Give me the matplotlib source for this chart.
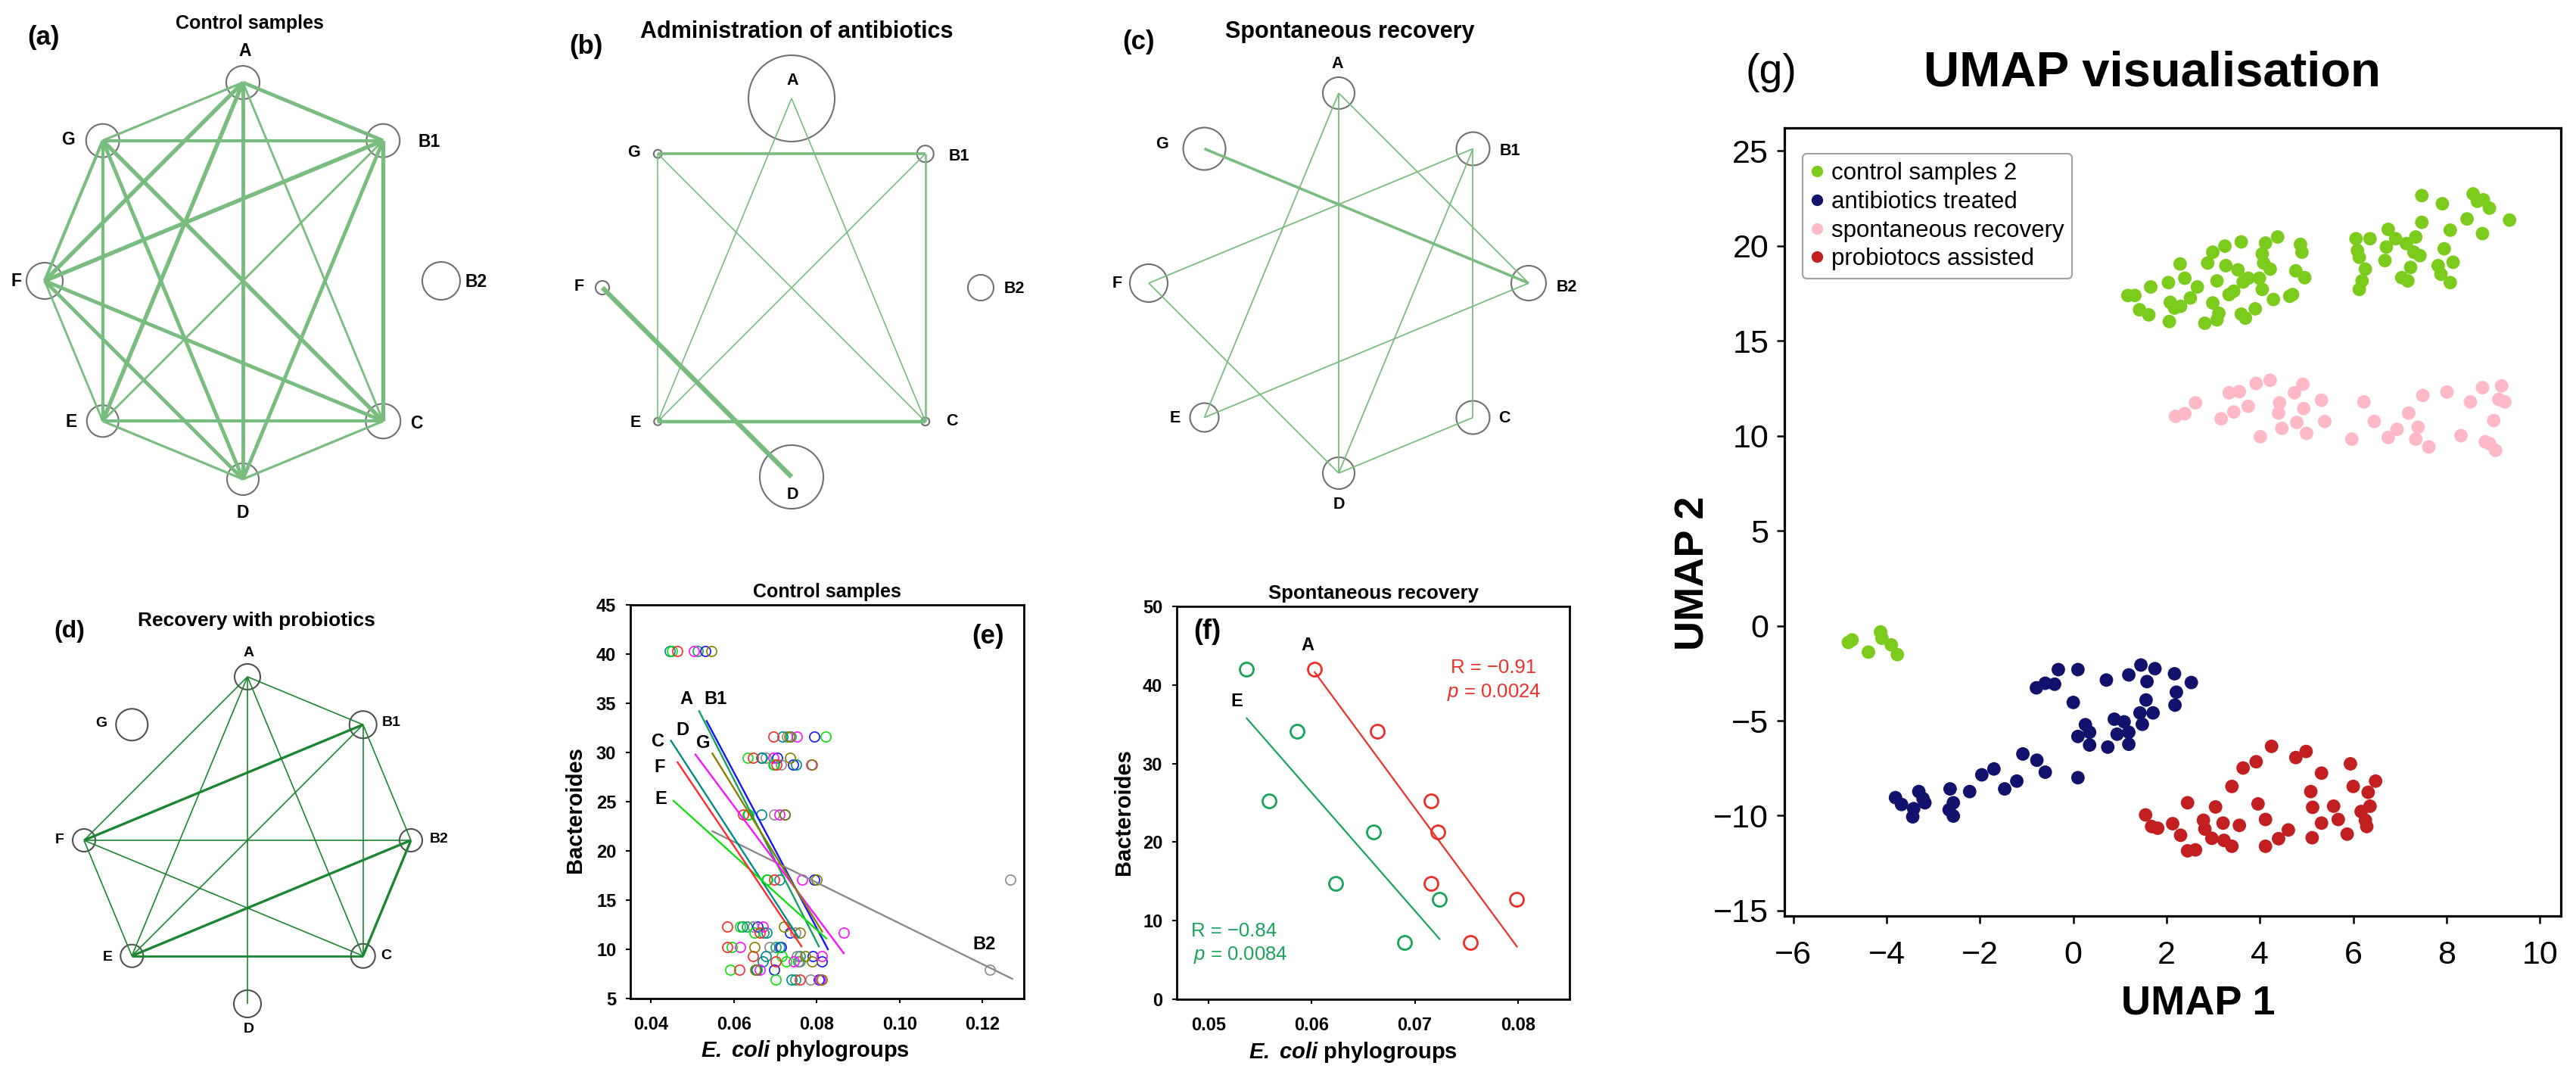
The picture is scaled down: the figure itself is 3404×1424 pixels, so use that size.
import numpy as np
import matplotlib
matplotlib.use("Agg")
import matplotlib.pyplot as plt
from matplotlib.lines import Line2D

plt.rcParams['font.family'] = ['Liberation Sans', 'DejaVu Sans']
plt.rcParams['mathtext.fontset'] = 'custom'
plt.rcParams['mathtext.rm'] = 'Liberation Sans'
plt.rcParams['mathtext.it'] = 'Liberation Sans:italic'
plt.rcParams['mathtext.bf'] = 'Liberation Sans:bold'
plt.rcParams['mathtext.bfit'] = 'Liberation Sans:italic:bold'

# ---------------- network data ----------------
node_names = ["A", "B1", "B2", "C", "D", "E", "F", "G"]
node_angle = [90, 45, 0, -45, -90, -135, 180, 135]   # circular layout

# node radii (px) per panel, order as node_names
size_a = [22, 22, 25, 23, 21, 21, 24, 22]
size_b = [57, 11, 17, 5.4, 42, 5, 9, 5.4]
size_c = [21, 22, 23, 22, 21, 19, 25, 28]
size_d = [17, 18, 15, 16, 18, 15, 15, 21]

# edges (node, node, strength -> line width)
edges_a = [("A", "G", 2.3), ("A", "B1", 3.5), ("A", "F", 3.9), ("A", "E", 3.9), ("A", "D", 3.5),
           ("A", "C", 2.0), ("G", "B1", 3.0), ("G", "F", 3.0), ("G", "E", 3.0), ("G", "D", 3.5),
           ("G", "C", 3.9), ("B1", "F", 3.9), ("B1", "E", 2.0), ("B1", "D", 3.5), ("B1", "C", 3.9),
           ("F", "E", 2.0), ("F", "D", 3.5), ("F", "C", 3.5), ("E", "C", 3.0), ("E", "D", 2.3),
           ("C", "D", 2.3)]
edges_b = [("G", "B1", 2.6), ("G", "E", 1.2), ("G", "C", 1.2), ("A", "E", 1.2), ("A", "C", 1.2),
           ("B1", "E", 1.2), ("B1", "C", 1.8), ("E", "C", 3.2), ("F", "D", 4.5)]
edges_c = [("G", "B2", 2.6), ("A", "E", 1.3), ("A", "D", 1.3), ("A", "B2", 1.3), ("B1", "F", 1.3),
           ("B1", "D", 1.3), ("B1", "C", 1.3), ("F", "D", 1.3), ("E", "B2", 1.3), ("C", "D", 1.3)]
edges_d = [("A", "B1", 1.2), ("A", "F", 1.2), ("A", "E", 1.2), ("A", "D", 1.2), ("A", "C", 1.2),
           ("B1", "F", 2.4), ("B1", "E", 1.2), ("B1", "C", 1.2), ("B1", "B2", 1.2), ("F", "B2", 1.2),
           ("F", "E", 1.2), ("F", "C", 1.2), ("E", "B2", 2.4), ("E", "C", 2.0), ("C", "B2", 2.4)]

# ---------------- panel (e) data ----------------
bact_e = [40.3, 31.6, 29.5, 28.8, 23.7, 17.1, 12.3, 11.7, 10.2, 9.3, 8.8, 7.9, 6.9]
groups_e = ["A", "B1", "B2", "C", "D", "E", "F", "G"]
ecoli_A = [0.0513, 0.0738, 0.0668, 0.0698, 0.0635, 0.0680, 0.0632, 0.0672, 0.0700, 0.0760, 0.0756, 0.0654, 0.0748]
ecoli_B1 = [0.0531, 0.0794, 0.0704, 0.0743, 0.0723, 0.0794, 0.0657, 0.0736, 0.0713, 0.0790, 0.0813, 0.0697, 0.0805]
ecoli_B2 = [np.nan, 0.0728, 0.0677, 0.0714, 0.0697, 0.1268, 0.0646, 0.0748, 0.0687, 0.0752, 0.0760, 0.1218, 0.0785]
ecoli_C = [0.0445, 0.0717, 0.0666, 0.0750, 0.0666, 0.0710, 0.0620, 0.0679, 0.0710, 0.0677, 0.0669, 0.0656, 0.0740]
ecoli_D = [0.0503, 0.0752, 0.0695, 0.0786, 0.0710, 0.0765, 0.0670, 0.0865, 0.0615, 0.0813, 0.0745, 0.0662, 0.0809]
ecoli_E = [0.0450, 0.0821, 0.0633, 0.0695, 0.0633, 0.0679, 0.0615, 0.0650, 0.0595, 0.0715, 0.0727, 0.0591, 0.0701]
ecoli_F = [0.0463, 0.0695, 0.0646, 0.0702, 0.0622, 0.0697, 0.0583, 0.0662, 0.0583, 0.0646, 0.0700, 0.0613, 0.0760]
ecoli_G = [0.0545, 0.0734, 0.0735, 0.0789, 0.0723, 0.0799, 0.0721, 0.0760, 0.0650, 0.0772, 0.0789, 0.0652, 0.0813]
# fitted regression lines (start/end) per group
fit_x0 = [0.0516, 0.0534, 0.0548, 0.0448, 0.0507, 0.0454, 0.0464, 0.0548]
fit_x1 = [0.0805, 0.0827, 0.1272, 0.0756, 0.0865, 0.0823, 0.0763, 0.0813]
fit_y0 = [34.2, 33.2, 22.0, 31.2, 29.8, 25.1, 29.0, 29.9]
fit_y1 = [10.3, 10.0, 7.0, 11.2, 9.6, 11.1, 10.3, 11.8]
label_x_e = [0.0485, 0.0556, 0.1205, 0.0416, 0.0476, 0.0423, 0.0420, 0.0526]
label_y_e = [35.4, 35.4, 10.5, 31.1, 32.3, 25.3, 28.5, 31.0]

# ---------------- panel (f) data ----------------
bact_f = [42.0, 34.1, 25.2, 21.3, 14.7, 12.7, 7.2]
ecoli_f_A = [0.0603, 0.0664, 0.0716, 0.0722, 0.0716, 0.0799, 0.0754]
ecoli_f_E = [0.0537, 0.0586, 0.0559, 0.0660, 0.0623, 0.0724, 0.0690]
stats_f_A = ["R = \u22120.91", "$p$ = 0.0024"]
stats_f_E = ["R = \u22120.84", "$p$ = 0.0084"]

# ---------------- panel (g) data ----------------
umap_ctrl_x = [1.17, 1.32, 1.42, 1.62, 1.66, 2.04, 2.08, 2.06, 2.17, 2.30, 2.29, 2.39, 2.51, 2.66, 2.82,
               2.88, 2.99, 3.08, 2.99, 3.12, 3.08, 3.25, 3.27, 3.34, 3.44, 3.53, 3.60, 3.64, 3.60, 3.69,
               3.75, 3.90, 3.99, 4.05, 4.08, 4.12, 4.05, 4.22, 4.29, 4.38, 4.64, 4.70, 4.77, 4.87, 4.90,
               4.96, 6.06, 6.09, 6.13, 6.13, 6.19, 6.26, 6.36, 6.68, 6.75, 6.71, 6.91, 7.04, 7.14, 7.17,
               7.23, 7.30, 7.34, 7.43, 7.47, 7.47, 7.91, 7.95, 8.08, 8.14, 7.82, 7.88, 8.08, 8.44, 8.57,
               8.66, 8.79, 8.92, 8.77, 9.35, -4.82, -4.74, -4.39, -4.13, -4.10, -3.90, -3.77]
umap_ctrl_y = [17.38, 17.38, 16.63, 16.36, 17.83, 18.06, 17.02, 16.01, 16.72, 16.81, 19.04, 18.29, 17.25,
               17.83, 15.92, 19.09, 19.66, 18.15, 16.99, 16.45, 16.10, 19.98, 18.95, 17.43, 17.61, 18.73,
               20.20, 18.09, 16.40, 16.19, 18.29, 16.68, 18.29, 17.70, 19.09, 20.14, 19.57, 18.77, 17.17,
               20.46, 17.34, 17.43, 18.68, 20.07, 19.66, 18.32, 20.37, 19.75, 19.39, 17.70, 18.15, 18.77,
               20.37, 19.22, 20.86, 19.93, 20.37, 18.32, 20.11, 18.15, 18.86, 19.66, 20.46, 19.48, 21.23,
               22.64, 22.21, 19.84, 20.82, 19.13, 18.95, 18.50, 18.06, 21.41, 22.73, 22.34, 22.42, 21.98,
               20.64, 21.35, -0.88, -0.75, -1.39, -0.33, -0.66, -1.01, -1.52]
umap_abx_x = [-3.81, -3.68, -3.44, -3.42, -3.31, -3.22, -3.18, -2.64, -2.66, -2.57, -2.57, -2.22, -1.96,
              -1.70, -1.47, -1.21, -1.08, -0.78, -0.60, -0.79, -0.60, -0.40, -0.32, 0.10, 0.00, 0.10,
              0.26, 0.35, 0.35, 0.71, 0.74, 0.88, 0.94, 1.09, 1.19, 1.19, 1.19, 1.45, 1.43, 1.48, 1.58,
              1.56, 1.71, 1.75, 2.17, 2.21, 2.18, 2.53, 0.10]
umap_abx_y = [-9.05, -9.41, -10.06, -9.63, -8.73, -9.10, -9.32, -8.59, -9.69, -9.32, -10.02, -8.73, -7.85,
              -7.54, -8.59, -8.18, -6.75, -7.08, -7.71, -3.27, -3.03, -3.08, -2.31, -2.31, -4.04, -5.83,
              -5.21, -5.61, -6.28, -2.86, -6.39, -4.92, -5.71, -5.06, -5.61, -6.24, -2.59, -2.07, -4.59,
              -5.19, -2.94, -3.91, -4.59, -2.26, -2.53, -3.50, -4.18, -2.99, -8.00]
umap_spont_x = [2.19, 2.39, 2.62, 3.17, 3.34, 3.56, 3.44, 3.75, 3.92, 4.01, 4.22, 4.42, 4.40, 4.47, 4.74,
                4.79, 4.92, 4.94, 5.00, 5.32, 5.39, 5.97, 6.23, 6.45, 6.75, 6.94, 7.19, 7.34, 7.39, 7.49,
                7.62, 8.01, 8.31, 8.51, 8.77, 8.83, 8.92, 9.01, 9.05, 9.12, 9.18, 9.25]
umap_spont_y = [11.02, 11.16, 11.73, 10.89, 12.26, 12.32, 11.25, 11.55, 12.75, 9.95, 12.92, 11.73, 11.19,
                10.39, 12.26, 10.70, 12.71, 11.43, 10.12, 11.87, 10.75, 9.82, 11.78, 10.75, 9.91, 10.34,
                11.19, 9.82, 10.45, 12.12, 9.41, 12.30, 10.00, 11.78, 12.53, 9.68, 9.59, 10.80, 9.23,
                11.91, 12.62, 11.78]
umap_probio_x = [1.55, 1.68, 1.81, 2.13, 2.30, 2.45, 2.45, 2.62, 2.79, 2.82, 2.97, 3.05, 3.21, 3.23, 3.40,
                 3.40, 3.56, 3.64, 3.92, 3.96, 4.12, 4.12, 4.25, 4.40, 4.61, 4.77, 4.99, 5.09, 5.13, 5.12,
                 5.32, 5.32, 5.58, 5.68, 5.87, 5.94, 6.00, 6.17, 6.26, 6.32, 6.36, 6.29, 6.48]
umap_probio_y = [-9.96, -10.57, -10.66, -10.42, -11.03, -9.32, -11.85, -11.80, -10.24, -10.70, -11.19,
                 -9.54, -10.39, -11.30, -11.61, -8.46, -10.51, -7.49, -7.16, -9.38, -10.20, -11.61, -6.35,
                 -11.21, -10.75, -6.94, -6.62, -8.73, -9.56, -11.16, -7.76, -10.39, -9.50, -10.20, -10.97,
                 -7.27, -8.46, -9.78, -10.24, -8.77, -9.50, -10.57, -8.18]
umap_labels = ["control samples 2", "antibiotics treated", "spontaneous recovery", "probiotocs assisted"]

# ---------------- figure ----------------
W, H = 3404, 1424
fig = plt.figure(figsize=(W / 100, H / 100), dpi=100)
PT = 0.72  # points per pixel


def rect(x0, y0, x1, y1):
    return [x0 / W, 1 - y1 / H, (x1 - x0) / W, (y1 - y0) / H]


def ftext(x, y, s, **kw):
    fig.text(x / W, 1 - y / H, s, ha='center', va='center', **kw)


def draw_network(box, center, r, sizes, edges, color, ecol, offs, fs):
    x0, y0, x1, y1 = box
    cx, cy = center
    ax = fig.add_axes(rect(*box))
    ax.set_xlim((x0 - cx) / r, (x1 - cx) / r)
    ax.set_ylim((cy - y1) / r, (cy - y0) / r)
    ax.axis('off')
    pos = {n: (np.cos(np.radians(a)), np.sin(np.radians(a))) for n, a in zip(node_names, node_angle)}
    for u, v, w in edges:
        ax.plot([pos[u][0], pos[v][0]], [pos[u][1], pos[v][1]], color=color, lw=w,
                solid_capstyle='butt', zorder=2)
    xs = [pos[n][0] for n in node_names]
    ys = [pos[n][1] for n in node_names]
    d = 2 * np.array(sizes) * PT
    ax.scatter(xs, ys, s=d ** 2, facecolors='none', edgecolors=ecol, linewidths=1.5,
               zorder=1, clip_on=False)
    for n in node_names:
        ax.annotate(n, xy=pos[n], xytext=offs[n], textcoords='offset points', ha='center',
                    va='center', fontsize=fs, fontweight='bold')
    return ax


light_green = '#78BD7E'
off_a = {"A": (2, 30), "B1": (44, -1), "B2": (33, -1), "C": (32, -2), "D": (0, -32),
         "E": (-30, -1), "F": (-27, 0), "G": (-33, 1)}
off_b = {"A": (1, 17), "B1": (32, -2), "B2": (32, -1), "C": (25, 0), "D": (1, -17),
         "E": (-21, -1), "F": (-22, 1), "G": (-23, 1)}
off_c = {"A": (-1, 28), "B1": (35, -2), "B2": (36, -4), "C": (30, -1), "D": (0, -30),
         "E": (-28, -1), "F": (-30, 0), "G": (-40, 4)}
off_d = {"A": (1, 23), "B1": (27, 2), "B2": (27, 1), "C": (22, 0), "D": (1, -24),
         "E": (-23, -1), "F": (-23, 0), "G": (-29, 1)}

draw_network((0, 0, 690, 700), (321, 371), 262, size_a, edges_a, light_green, '#707070', off_a, 16.5)
draw_network((700, 0, 1400, 700), (1046, 380), 250, size_b, edges_b, light_green, '#707070', off_b, 15.5)
draw_network((1400, 0, 2150, 700), (1769, 374), 251, size_c, edges_c, light_green, '#707070', off_c, 15.5)
draw_network((0, 700, 690, 1424), (327, 1110), 216, size_d, edges_d, '#1B8530', '#505050', off_d, 14)

ftext(330, 31, "Control samples", fontsize=18, fontweight='bold')
ftext(1053, 42, "Administration of antibiotics", fontsize=22, fontweight='bold')
ftext(1784, 42, "Spontaneous recovery", fontsize=22, fontweight='bold')
ftext(339, 820, "Recovery with probiotics", fontsize=19, fontweight='bold')
ftext(58, 49, "(a)", fontsize=25, fontweight='bold')
ftext(774, 62, "(b)", fontsize=25, fontweight='bold')
ftext(1505, 56, "(c)", fontsize=25, fontweight='bold')
ftext(92, 834, "(d)", fontsize=23, fontweight='bold')


def style_box_axes(ax, lw=2.0):
    for s in ax.spines.values():
        s.set_linewidth(lw)
    ax.tick_params(direction='out', length=4.5, width=1.5, labelsize=17, top=False, right=False)
    ax.tick_params(axis='x', pad=12)
    ax.tick_params(axis='y', pad=9)
    for lab in ax.get_xticklabels() + ax.get_yticklabels():
        lab.set_fontweight('bold')


# ---------------- panel (e) ----------------
colors_e = ['#13A063', '#1414FF', '#8A8A8A', '#008B8B', '#FF10FF', '#10E010', '#FF2A2A', '#858000']
ecoli_e = [ecoli_A, ecoli_B1, ecoli_B2, ecoli_C, ecoli_D, ecoli_E, ecoli_F, ecoli_G]
axe = fig.add_axes(rect(833, 799, 1353, 1319))
for g, xs, col in zip(groups_e, ecoli_e, colors_e):
    axe.plot(xs, bact_e, 'o', mfc='none', mec=col, ms=9.5, mew=1.2, linestyle='none')
for i, col in enumerate(colors_e):
    axe.plot([fit_x0[i], fit_x1[i]], [fit_y0[i], fit_y1[i]], color=col, lw=1.7)
for i, g in enumerate(groups_e):
    axe.text(label_x_e[i], label_y_e[i], g, fontsize=17, fontweight='bold', ha='center', va='center')
axe.text(0.1213, 41.8, "(e)", fontsize=25, fontweight='bold', ha='center', va='center')
axe.set_xlim(0.035, 0.13)
axe.set_ylim(5, 45)
axe.set_xticks([0.04, 0.06, 0.08, 0.10, 0.12])
axe.set_xticklabels(["0.04", "0.06", "0.08", "0.10", "0.12"])
axe.set_yticks(range(5, 46, 5))
style_box_axes(axe)
axe.set_title("Control samples", fontsize=18, fontweight='bold', pad=7)
axe.text(-0.14, 0.48, "Bacteroides", transform=axe.transAxes, rotation=90, fontsize=21,
         fontweight='bold', ha='center', va='center')
axe.text(0.444, -0.133, r"$\mathbfit{E.}$ $\mathbfit{coli}$ phylogroups", transform=axe.transAxes,
         fontsize=21, fontweight='bold', ha='center', va='center')

# ---------------- panel (f) ----------------
red_f = '#EE3028'
green_f = '#1AA35A'
axf = fig.add_axes(rect(1555, 801, 2074, 1320))
for xs, col in [(ecoli_f_A, red_f), (ecoli_f_E, green_f)]:
    axf.plot(xs, bact_f, 'o', mfc='none', mec=col, ms=13, mew=2.0, linestyle='none')
    k, b = np.polyfit(xs, bact_f, 1)
    xx = np.array([min(xs), max(xs)])
    axf.plot(xx, k * xx + b, color=col, lw=1.6)
axf.set_xlim(0.04692, 0.0850)
axf.set_ylim(0, 50)
axf.set_xticks([0.05, 0.06, 0.07, 0.08])
axf.set_xticklabels(["0.05", "0.06", "0.07", "0.08"])
axf.set_yticks(range(0, 51, 10))
style_box_axes(axf)
axf.set_title("Spontaneous recovery", fontsize=18.5, fontweight='bold', pad=7)
axf.text(0.0499, 46.8, "(f)", fontsize=26, fontweight='bold', ha='center', va='center')
axf.text(0.0596, 45.0, "A", fontsize=17, fontweight='bold', ha='center', va='center')
axf.text(0.0527, 37.9, "E", fontsize=17, fontweight='bold', ha='center', va='center')
axf.text(0.0776, 42.2, stats_f_A[0], color=red_f, fontsize=18.5, ha='center', va='center')
axf.text(0.0777, 39.1, stats_f_A[1], color=red_f, fontsize=18.5, ha='center', va='center')
axf.text(0.0525, 8.7, stats_f_E[0], color=green_f, fontsize=18.5, ha='center', va='center')
axf.text(0.0531, 5.6, stats_f_E[1], color=green_f, fontsize=18.5, ha='center', va='center')
axf.text(-0.135, 0.476, "Bacteroides", transform=axf.transAxes, rotation=90, fontsize=21,
         fontweight='bold', ha='center', va='center')
axf.text(0.449, -0.135, r"$\mathbfit{E.}$ $\mathbfit{coli}$ phylogroups", transform=axf.transAxes,
         fontsize=21, fontweight='bold', ha='center', va='center')

# ---------------- panel (g) ----------------
cols_g = ['#7BCB1C', '#12126C', '#FFB9C6', '#C21F20']
axg = fig.add_axes(rect(2358, 169, 3384, 1210))
series_g = [(umap_ctrl_x, umap_ctrl_y), (umap_abx_x, umap_abx_y),
            (umap_spont_x, umap_spont_y), (umap_probio_x, umap_probio_y)]
for (xs, ys), col in zip(series_g, cols_g):
    axg.scatter(xs, ys, s=165, color=col, edgecolors='none')
axg.set_xlim(-6.19, 10.45)
axg.set_ylim(-15.28, 26.2)
axg.set_xticks(range(-6, 11, 2))
axg.set_yticks(range(-15, 26, 5))
for s in axg.spines.values():
    s.set_linewidth(2.3)
axg.tick_params(direction='out', length=7, width=1.8, labelsize=31, top=False, right=False)
axg.tick_params(axis='x', pad=16)
axg.tick_params(axis='y', pad=8)
handles = [Line2D([], [], marker='o', linestyle='none', color=c, markersize=10) for c in cols_g]
leg = axg.legend(handles, umap_labels, loc='upper left', bbox_to_anchor=(24 / 1026, 1 - 34 / 1041),
                 borderaxespad=0, fontsize=22.5, handlelength=0.5, handletextpad=0.35,
                 labelspacing=0.25, borderpad=0.35, frameon=True, fancybox=True)
leg.get_frame().set_edgecolor('#888888')
leg.get_frame().set_linewidth(1.5)
axg.text(-0.117, 0.435, "UMAP 2", transform=axg.transAxes, rotation=90, fontsize=39,
         fontweight='bold', ha='center', va='center')
axg.text(0.533, -0.111, "UMAP 1", transform=axg.transAxes, fontsize=39, fontweight='bold',
         ha='center', va='center')
ftext(2844, 96, "UMAP visualisation", fontsize=47, fontweight='bold')
ftext(2340, 96, "(g)", fontsize=40)

fig.savefig("out.png", dpi=100)
